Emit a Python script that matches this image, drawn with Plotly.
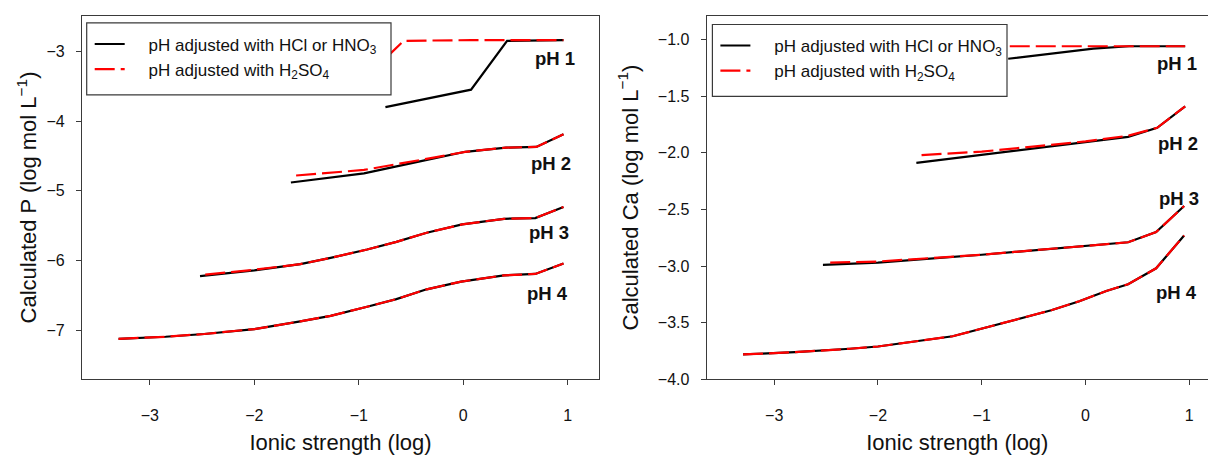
import plotly.graph_objects as go

# ---------------- data ----------------
# Left panel: calculated P (log mol/L) vs ionic strength (log)
P_hcl_pH1_x = [-0.745, 0.075, 0.42, 0.70, 0.96]
P_hcl_pH1_y = [-3.80, -3.55, -2.85, -2.84, -2.84]
P_hcl_pH2_x = [-1.65, -0.95, -0.27, 0.02, 0.41, 0.70, 0.96]
P_hcl_pH2_y = [-4.88, -4.75, -4.53, -4.44, -4.38, -4.37, -4.19]
P_hcl_pH3_x = [-2.52, -2.0, -1.56, -1.27, -0.92, -0.64, -0.35, -0.01, 0.39, 0.69, 0.96]
P_hcl_pH3_y = [-6.22, -6.14, -6.05, -5.96, -5.84, -5.73, -5.60, -5.48, -5.40, -5.39, -5.23]
P_hcl_pH4_x = [-3.3, -2.85, -2.48, -2.0, -1.56, -1.27, -0.92, -0.64, -0.35, -0.02, 0.39, 0.69, 0.96]
P_hcl_pH4_y = [-7.12, -7.09, -7.05, -6.98, -6.87, -6.79, -6.66, -6.55, -6.41, -6.30, -6.21, -6.19, -6.04]

P_so4_pH1_x = [-0.73, -0.57, 0.075, 0.42, 0.70, 0.96]
P_so4_pH1_y = [-3.08, -2.85, -2.84, -2.84, -2.84, -2.84]
P_so4_pH2_x = [-1.60, -0.95, -0.27, 0.02, 0.41, 0.70, 0.96]
P_so4_pH2_y = [-4.78, -4.70, -4.52, -4.44, -4.38, -4.37, -4.19]
P_so4_pH3_x = [-2.47, -2.0, -1.56, -1.27, -0.92, -0.64, -0.35, -0.01, 0.39, 0.69, 0.96]
P_so4_pH3_y = [-6.20, -6.13, -6.05, -5.96, -5.84, -5.73, -5.60, -5.48, -5.40, -5.39, -5.23]
P_so4_pH4_x = [-3.3, -2.85, -2.48, -2.0, -1.56, -1.27, -0.92, -0.64, -0.35, -0.02, 0.39, 0.69, 0.96]
P_so4_pH4_y = [-7.12, -7.09, -7.05, -6.98, -6.87, -6.79, -6.66, -6.55, -6.41, -6.30, -6.21, -6.19, -6.04]

# Right panel: calculated Ca (log mol/L) vs ionic strength (log)
Ca_hcl_pH1_x = [-0.745, 0.075, 0.42, 0.70, 0.96]
Ca_hcl_pH1_y = [-1.17, -1.08, -1.06, -1.06, -1.06]
Ca_hcl_pH2_x = [-1.63, -1.0, 0.0, 0.41, 0.69, 0.96]
Ca_hcl_pH2_y = [-2.09, -2.02, -1.91, -1.86, -1.78, -1.59]
Ca_hcl_pH3_x = [-2.53, -2.0, -1.0, -0.05, 0.41, 0.68, 0.95]
Ca_hcl_pH3_y = [-2.99, -2.97, -2.90, -2.83, -2.79, -2.70, -2.47]
Ca_hcl_pH4_x = [-3.3, -2.8, -2.27, -2.0, -1.28, -0.99, -0.62, -0.33, -0.06, 0.2, 0.41, 0.68, 0.95]
Ca_hcl_pH4_y = [-3.78, -3.76, -3.73, -3.71, -3.62, -3.55, -3.46, -3.39, -3.31, -3.22, -3.16, -3.02, -2.73]

Ca_so4_pH1_x = [-0.73, 0.075, 0.42, 0.70, 0.96]
Ca_so4_pH1_y = [-1.06, -1.06, -1.06, -1.06, -1.06]
Ca_so4_pH2_x = [-1.58, -1.0, 0.0, 0.41, 0.69, 0.96]
Ca_so4_pH2_y = [-2.02, -1.99, -1.90, -1.85, -1.78, -1.59]
Ca_so4_pH3_x = [-2.46, -2.0, -1.0, -0.05, 0.41, 0.68, 0.95]
Ca_so4_pH3_y = [-2.97, -2.96, -2.90, -2.83, -2.79, -2.70, -2.47]
Ca_so4_pH4_x = [-3.3, -2.8, -2.27, -2.0, -1.28, -0.99, -0.62, -0.33, -0.06, 0.2, 0.41, 0.68, 0.95]
Ca_so4_pH4_y = [-3.78, -3.76, -3.73, -3.71, -3.62, -3.55, -3.46, -3.39, -3.31, -3.22, -3.16, -3.02, -2.73]

# curve labels
ph_labels = ["pH 1", "pH 2", "pH 3", "pH 4"]
P_label_x = [0.88, 0.84, 0.82, 0.81]
P_label_y = [-3.11, -4.61, -5.59, -6.47]
Ca_label_x = [0.88, 0.89, 0.90, 0.88]
Ca_label_y = [-1.215, -1.915, -2.405, -3.235]

x_ticks = [-3, -2, -1, 0, 1]
P_y_ticks = [-3, -4, -5, -6, -7]
Ca_y_ticks = [-1.0, -1.5, -2.0, -2.5, -3.0, -3.5, -4.0]

NB = "\u00a0" * 4
name_hcl = NB + "pH adjusted with HCl or HNO<sub>3</sub>"
name_so4 = NB + "pH adjusted with H<sub>2</sub>SO<sub>4</sub>"

# ---------------- figure ----------------
FONT = "Arial, Liberation Sans, sans-serif"
BLACK = "#000000"
RED = "#ff0000"
AX = "#3a3a3a"
TXT = "#111111"

fig = go.Figure()

P_hcl = [(P_hcl_pH1_x, P_hcl_pH1_y), (P_hcl_pH2_x, P_hcl_pH2_y),
         (P_hcl_pH3_x, P_hcl_pH3_y), (P_hcl_pH4_x, P_hcl_pH4_y)]
P_so4 = [(P_so4_pH1_x, P_so4_pH1_y), (P_so4_pH2_x, P_so4_pH2_y),
         (P_so4_pH3_x, P_so4_pH3_y), (P_so4_pH4_x, P_so4_pH4_y)]
Ca_hcl = [(Ca_hcl_pH1_x, Ca_hcl_pH1_y), (Ca_hcl_pH2_x, Ca_hcl_pH2_y),
          (Ca_hcl_pH3_x, Ca_hcl_pH3_y), (Ca_hcl_pH4_x, Ca_hcl_pH4_y)]
Ca_so4 = [(Ca_so4_pH1_x, Ca_so4_pH1_y), (Ca_so4_pH2_x, Ca_so4_pH2_y),
          (Ca_so4_pH3_x, Ca_so4_pH3_y), (Ca_so4_pH4_x, Ca_so4_pH4_y)]

black_line = dict(color=BLACK, width=2.2)
red_line = dict(color=RED, width=2.2, dash="20px,6px")

for hcl, so4, xa, ya, lg in [(P_hcl, P_so4, "x", "y", "legend"),
                             (Ca_hcl, Ca_so4, "x2", "y2", "legend2")]:
    for i, (xs, ys) in enumerate(hcl):
        fig.add_trace(go.Scatter(x=xs, y=ys, mode="lines", line=black_line,
                                 name=name_hcl, showlegend=(i == 0), legend=lg,
                                 xaxis=xa, yaxis=ya))
    for i, (xs, ys) in enumerate(so4):
        fig.add_trace(go.Scatter(x=xs, y=ys, mode="lines", line=red_line,
                                 name=name_so4, showlegend=(i == 0), legend=lg,
                                 xaxis=xa, yaxis=ya))

annotations = []
for t, x, y in zip(ph_labels, P_label_x, P_label_y):
    annotations.append(dict(x=x, y=y, xref="x", yref="y", text="<b>%s</b>" % t,
                            showarrow=False, font=dict(size=18.5, color=TXT, family=FONT)))
for t, x, y in zip(ph_labels, Ca_label_x, Ca_label_y):
    annotations.append(dict(x=x, y=y, xref="x2", yref="y2", text="<b>%s</b>" % t,
                            showarrow=False, font=dict(size=18.5, color=TXT, family=FONT)))

W, H = 1208, 455
ydom = [1 - 387 / H, 1 - 16 / H]

# legend frames (white boxes that mask the curves behind the legends)
shapes = [
    dict(type="rect", xref="paper", yref="paper", layer="above",
         x0=86.7 / W, x1=391 / W, y0=1 - 96.7 / H, y1=1 - 23.3 / H,
         fillcolor="white", line=dict(color=AX, width=1.2)),
    dict(type="rect", xref="paper", yref="paper", layer="above",
         x0=712.4 / W, x1=1007 / W, y0=1 - 98.3 / H, y1=1 - 25 / H,
         fillcolor="white", line=dict(color=AX, width=1.2)),
]

axis_common = dict(showgrid=False, zeroline=False, showline=True, linecolor=AX,
                   linewidth=1.2, ticks="outside", ticklen=5, tickcolor=AX,
                   tickwidth=1.2, tickfont=dict(size=16, color=TXT, family=FONT))

legend_common = dict(bgcolor="rgba(0,0,0,0)", borderwidth=0,
                     font=dict(size=17, color=TXT, family=FONT),
                     xanchor="left", yanchor="top", tracegroupgap=0)

title_font = dict(size=22, family=FONT, color=TXT)

fig.update_layout(
    width=W, height=H,
    margin=dict(l=0, r=0, t=0, b=0),
    paper_bgcolor="white", plot_bgcolor="white",
    font=dict(family=FONT, color=TXT),
    xaxis=dict(domain=[82 / W, 599 / W], range=[-3.65, 1.30], tickvals=x_ticks,
               mirror=True, ticklabelstandoff=16,
               title=dict(text="Ionic strength (log)", font=title_font, standoff=13),
               anchor="y", **axis_common),
    yaxis=dict(domain=ydom, range=[-7.70, -2.49], tickvals=P_y_ticks, mirror=True,
               ticklabelstandoff=8,
               title=dict(text="Calculated P (log mol L<sup>\u22121</sup>)",
                          font=title_font, standoff=3),
               anchor="x", **axis_common),
    xaxis2=dict(domain=[706.7 / W, 1.0], range=[-3.65, 1.18], tickvals=x_ticks,
                mirror=True, ticklabelstandoff=16,
                title=dict(text="Ionic strength (log)", font=title_font, standoff=13),
                anchor="y2", **axis_common),
    yaxis2=dict(domain=ydom, range=[-4.0, -0.79], tickvals=Ca_y_ticks, tickformat=".1f",
                mirror=False, ticklabelstandoff=8,
                title=dict(text="Calculated Ca (log mol L<sup>\u22121</sup>)",
                           font=title_font, standoff=13),
                anchor="x2", **axis_common),
    legend=dict(x=89.7 / W, y=1 - 27 / H, **legend_common),
    legend2=dict(x=715.4 / W, y=1 - 28.5 / H, **legend_common),
    annotations=annotations,
    shapes=shapes,
    showlegend=True,
)

fig.write_html("out.html")
